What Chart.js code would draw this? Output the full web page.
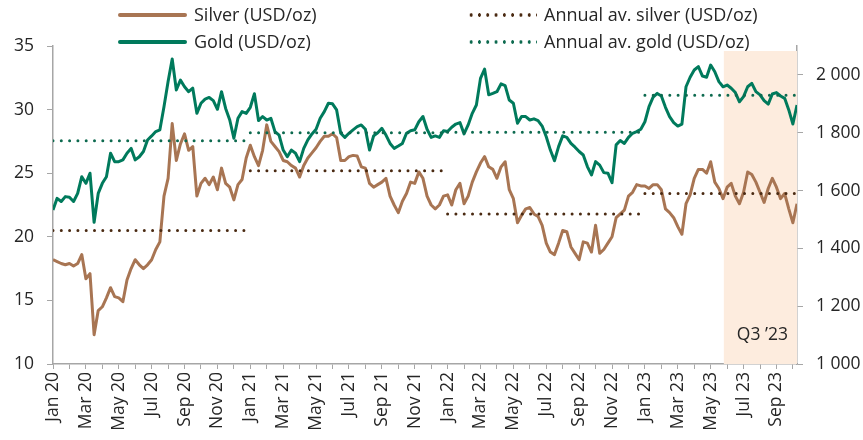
<!DOCTYPE html>
<html>
<head>
<meta charset="utf-8">
<title>Silver and gold prices</title>
<script src="https://cdn.jsdelivr.net/npm/chart.js@4.4.1/dist/chart.umd.min.js"></script>
<style>
  html, body { margin: 0; padding: 0; background: #fff; }
  #wrap { position: relative; width: 863px; height: 440px; font-family: "Open Sans", sans-serif; color: #262626; }
  #chart { position: absolute; left: 0; top: 0; }
  .key { position: absolute; font-size: 18px; line-height: 22px; white-space: nowrap; }
  .swatch { position: absolute; width: 69px; height: 4px; border-radius: 2px; }
  .dots { position: absolute; width: 70px; height: 4px; background-repeat: repeat-x; background-size: 8.3px 4px; }
</style>
</head>
<body>
<div id="wrap">
  <canvas id="chart" width="863" height="440"></canvas>
  <div class="swatch" style="left:118px;top:13px;background:#a87553"></div>
  <div class="key" style="left:194px;top:3px">Silver (USD/oz)</div>
  <div class="swatch" style="left:118px;top:40px;background:#007a5c"></div>
  <div class="key" style="left:194px;top:30px">Gold (USD/oz)</div>
  <div class="dots" style="left:467px;top:13px;background-image:radial-gradient(circle, #4a2a12 1.5px, transparent 1.9px)"></div>
  <div class="key" style="left:544px;top:3px">Annual av. silver (USD/oz)</div>
  <div class="dots" style="left:467px;top:40px;background-image:radial-gradient(circle, #0d6a4f 1.5px, transparent 1.9px)"></div>
  <div class="key" style="left:544px;top:30px">Annual av. gold (USD/oz)</div>
</div>
<script>
// weekly-ish samples, one every quarter of a month from Jan 2020
var step = 0.25;
var firstYear = 20;
var monthNames = ['Jan', 'Feb', 'Mar', 'Apr', 'May', 'Jun', 'Jul', 'Aug', 'Sep', 'Oct', 'Nov', 'Dec'];

var silver = [
  18.2, 18.05, 17.9, 17.8, 17.9, 17.7, 17.9, 18.6, 16.7, 17.1,
  12.3, 14.2, 14.5, 15.2, 16.0, 15.3, 15.2, 14.9, 16.6, 17.5,
  18.2, 17.8, 17.5, 17.8, 18.2, 19.0, 19.6, 23.2, 24.6, 28.9,
  26.0, 27.3, 28.1, 26.8, 27.1, 23.2, 24.2, 24.6, 24.1, 24.7,
  23.7, 25.4, 24.2, 23.9, 22.9, 24.1, 24.5, 26.2, 27.2, 26.3,
  25.6, 26.8, 28.8, 27.5, 27.1, 26.7, 26.0, 25.9, 25.6, 25.4,
  24.7, 25.6, 26.2, 26.6, 27.0, 27.5, 27.9, 27.9, 28.1, 27.8,
  26.0, 26.0, 26.3, 26.4, 26.35, 25.5, 25.4, 24.2, 23.9, 24.1,
  24.3, 24.6, 23.2, 22.5, 21.9, 22.8, 23.4, 24.3, 24.2, 25.1,
  24.6, 23.2, 22.5, 22.2, 22.5, 23.2, 23.3, 22.5, 23.7, 24.2,
  22.6, 23.2, 24.3, 25.1, 25.8, 26.3, 25.5, 25.3, 24.6, 25.5,
  25.9, 23.7, 23.0, 21.1, 21.7, 22.2, 22.3, 21.8, 21.6, 20.9,
  19.5, 18.8, 18.6, 19.5, 20.5, 20.4, 19.2, 18.7, 18.2, 19.6,
  19.5, 18.8, 20.9, 18.7, 19.0, 19.5, 20.0, 21.5, 21.8, 22.1,
  23.2, 23.5, 24.1, 24.0, 24.0, 23.8, 24.1, 24.1, 23.7, 22.2,
  21.9, 21.5, 20.8, 20.2, 22.6, 23.3, 24.6, 25.3, 25.3, 25.0,
  25.9, 24.3, 23.8, 23.0, 23.9, 24.2, 23.2, 22.6, 23.5, 25.1,
  24.9, 24.3, 23.5, 22.7, 23.8, 24.6, 23.9, 23.0, 23.4, 22.2,
  21.1, 22.6
];

var gold = [
  1533, 1573, 1562, 1579, 1577, 1562, 1590, 1648, 1625, 1660,
  1490, 1590, 1625, 1648, 1729, 1700, 1700, 1706, 1729, 1746,
  1706, 1717, 1735, 1775, 1789, 1804, 1810, 1890, 1977, 2055,
  1948, 1982, 1959, 1942, 1954, 1867, 1902, 1916, 1922, 1911,
  1881, 1942, 1884, 1844, 1781, 1850, 1873, 1867, 1888, 1935,
  1842, 1856, 1844, 1850, 1804, 1792, 1740, 1717, 1740, 1729,
  1700, 1746, 1775, 1796, 1812, 1850, 1873, 1902, 1900, 1879,
  1798, 1784, 1798, 1810, 1821, 1827, 1812, 1740, 1789, 1800,
  1815, 1792, 1763, 1746, 1754, 1763, 1798, 1807, 1810, 1838,
  1856, 1812, 1784, 1789, 1784, 1807, 1804, 1819, 1830, 1835,
  1796, 1827, 1867, 1896, 1988, 2020, 1931, 1936, 1942, 1969,
  1963, 1913, 1902, 1833, 1856, 1856, 1844, 1848, 1842, 1823,
  1786, 1740, 1703, 1752, 1789, 1784, 1763, 1750, 1735, 1723,
  1683, 1654, 1700, 1688, 1662, 1660, 1627, 1758, 1773, 1763,
  1784, 1798, 1804, 1812, 1838, 1890, 1923, 1936, 1927, 1888,
  1856, 1835, 1823, 1830, 1959, 1992, 2017, 2029, 1996, 1992,
  2034, 2011, 1977, 1959, 1965, 1954, 1939, 1907, 1925, 1959,
  1971, 1942, 1931, 1911, 1899, 1934, 1939, 1927, 1919, 1879,
  1830, 1896
];

// yearly averages, 2020..2023
var avgYears = [0, 1, 2, 3];
var silverAvg = [20.5, 25.2, 21.8, 23.4];
var goldAvg = [1772, 1800, 1802, 1930];

// highlighted stretch at the end of the series
var shadeFrom = 40.8;
var shadeLabel = 'Q3 \u201923';

var lastX = (silver.length - 1) * step;

function toPoints(arr) {
  return arr.map(function(v, i) { return { x: i * step, y: v }; });
}

function yearSegments(values) {
  var pts = [];
  avgYears.forEach(function(y, k) {
    var a = y * 12, b = Math.min(y * 12 + 11.75, lastX);
    if (k > 0) pts.push({ x: a - 0.1, y: null });
    pts.push({ x: a, y: values[k] });
    pts.push({ x: b, y: values[k] });
  });
  return pts;
}

function thousands(v) {
  var s = String(v);
  return s.length > 3 ? s.slice(0, s.length - 3) + ' ' + s.slice(-3) : s;
}

var axisGrey = '#a6a6a6';
var textCol = '#262626';
Chart.defaults.font.family = '"Open Sans", sans-serif';
Chart.defaults.font.size = 17.5;
Chart.defaults.color = textCol;

var shadePlugin = {
  id: 'shade',
  beforeDatasetsDraw: function(chart) {
    var ctx = chart.ctx, area = chart.chartArea, x = chart.scales.x;
    var left = x.getPixelForValue(shadeFrom);
    ctx.save();
    ctx.fillStyle = '#fdecde';
    ctx.fillRect(left, area.top + 5, area.right - left, area.bottom - area.top - 5);
    ctx.fillStyle = textCol;
    ctx.font = '17.5px "Open Sans", sans-serif';
    ctx.textAlign = 'right';
    ctx.textBaseline = 'alphabetic';
    ctx.fillText(shadeLabel, area.right - 9, area.bottom - 24);
    ctx.restore();
  }
};

new Chart(document.getElementById('chart'), {
  type: 'line',
  data: {
    datasets: [
      { label: 'Gold (USD/oz)', data: toPoints(gold), yAxisID: 'y1', borderColor: '#007a5c', borderWidth: 3, order: 3 },
      { label: 'Silver (USD/oz)', data: toPoints(silver), yAxisID: 'y', borderColor: '#a87553', borderWidth: 3, order: 2 },
      { label: 'Annual av. silver (USD/oz)', data: yearSegments(silverAvg), yAxisID: 'y', borderColor: '#4a2a12',
        borderWidth: 3, borderDash: [0, 8.3], borderCapStyle: 'round', spanGaps: false, order: 1 },
      { label: 'Annual av. gold (USD/oz)', data: yearSegments(goldAvg), yAxisID: 'y1', borderColor: '#0d6a4f',
        borderWidth: 3, borderDash: [0, 8.3], borderCapStyle: 'round', spanGaps: false, order: 1 }
    ]
  },
  options: {
    responsive: false,
    animation: false,
    layout: { padding: { top: 46, left: 0, right: 0, bottom: 0 } },
    elements: { point: { radius: 0 }, line: { tension: 0, borderJoinStyle: 'round' } },
    plugins: { legend: { display: false }, tooltip: { enabled: false } },
    scales: {
      x: {
        type: 'linear', min: 0, max: lastX,
        afterBuildTicks: function(s) {
          var t = [];
          for (var m = 0; m <= Math.floor(lastX); m++) t.push({ value: m });
          s.ticks = t;
        },
        afterFit: function(s) { s.height = 76; },
        ticks: {
          autoSkip: false, minRotation: 90, maxRotation: 90, padding: 3, color: textCol,
          callback: function(v) {
            return v % 2 === 0 ? monthNames[v % 12] + ' ' + (firstYear + Math.floor(v / 12)) : '';
          }
        },
        grid: { drawOnChartArea: false, drawTicks: true, tickLength: 5, color: axisGrey },
        border: { display: true, color: axisGrey, width: 1.5 }
      },
      y: {
        position: 'left', min: 10, max: 35,
        afterFit: function(s) { s.width = 53; },
        ticks: { stepSize: 5, padding: 13, color: textCol },
        grid: { drawOnChartArea: false, tickLength: 6, color: axisGrey },
        border: { display: true, color: axisGrey, width: 1.5 }
      },
      y1: {
        position: 'right', min: 1000, max: 2100,
        afterBuildTicks: function(s) { s.ticks = s.ticks.filter(function(t) { return t.value <= 2000; }); },
        afterFit: function(s) { s.width = 66; },
        ticks: { stepSize: 200, padding: 13, color: textCol, callback: function(v) { return thousands(v); } },
        grid: { drawOnChartArea: false, tickLength: 6, color: axisGrey },
        border: { display: true, color: axisGrey, width: 1.5 }
      }
    }
  },
  plugins: [shadePlugin]
});
</script>
</body>
</html>
